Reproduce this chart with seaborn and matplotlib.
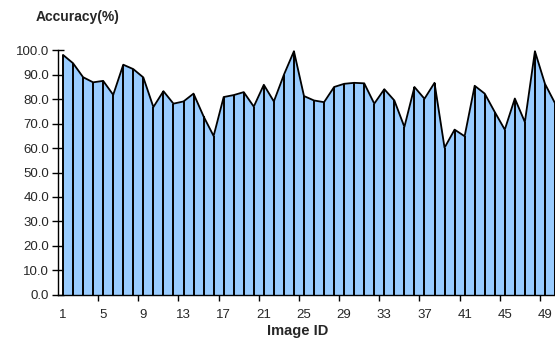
import numpy as np
import pandas as pd
import seaborn as sns
import matplotlib
matplotlib.use("Agg")
import matplotlib.pyplot as plt

# accuracy per image
image_id = list(range(1, 51))
accuracy = [
    98.0, 94.6, 88.9, 86.8, 87.4, 81.7, 94.0, 92.2, 88.8, 76.7,
    83.2, 78.1, 79.0, 82.2, 72.9, 64.9, 80.8, 81.6, 82.8, 76.9,
    85.8, 79.0, 89.9, 99.5, 81.2, 79.4, 78.7, 84.9, 86.2, 86.6,
    86.4, 78.1, 84.0, 79.4, 68.6, 84.9, 80.1, 86.6, 60.1, 67.5,
    64.8, 85.4, 82.2, 74.7, 67.5, 80.2, 70.6, 99.5, 86.2, 78.3,
]
label_ids = list(range(1, 50, 4))
y_ticks = np.arange(0, 101, 10)

df = pd.DataFrame({"Image ID": image_id, "Accuracy": accuracy})

sns.set_style("white")
plt.rcParams["font.family"] = ["Liberation Sans", "DejaVu Sans"]

fig = plt.figure(figsize=(5.55, 3.39), dpi=100)
ax = fig.add_axes([0.1045, 0.1298, 0.8955, 0.7227])

ax.fill_between(df["Image ID"], 0, df["Accuracy"], color="#99CCFF", linewidth=0)
ax.vlines(df["Image ID"], 0, df["Accuracy"], color="black", linewidth=1.4)
sns.lineplot(data=df, x="Image ID", y="Accuracy", ax=ax, color="black", linewidth=1.3)

ax.set_xlim(0.5, 50.0)
ax.set_ylim(0, 100)
ax.set_yticks(y_ticks, [f"{v:.1f}" for v in y_ticks])
ax.set_xticks(np.arange(4.5, 50, 4), [])
ax.set_xticks(label_ids, [str(i) for i in label_ids], minor=True)
ax.tick_params(axis="x", which="major", bottom=True, direction="inout", length=8, width=1, color="black")
ax.tick_params(axis="x", which="minor", bottom=True, length=0, pad=10, labelsize=9.5)
ax.tick_params(axis="y", left=True, direction="inout", length=9, width=1, color="black", labelsize=9.5, pad=2)

for side in ["top", "right"]:
    ax.spines[side].set_visible(False)
for side in ["left", "bottom"]:
    ax.spines[side].set_color("black")
    ax.spines[side].set_linewidth(1)

ax.set_xlabel("Image ID", fontsize=10.5, fontweight="bold")
ax.xaxis.set_label_coords(0.483, -0.118)
ax.set_ylabel("")
fig.text(0.065, 0.95, "Accuracy(%)", fontsize=10, fontweight="bold", va="center", ha="left")

fig.savefig("out.png", dpi=100)
